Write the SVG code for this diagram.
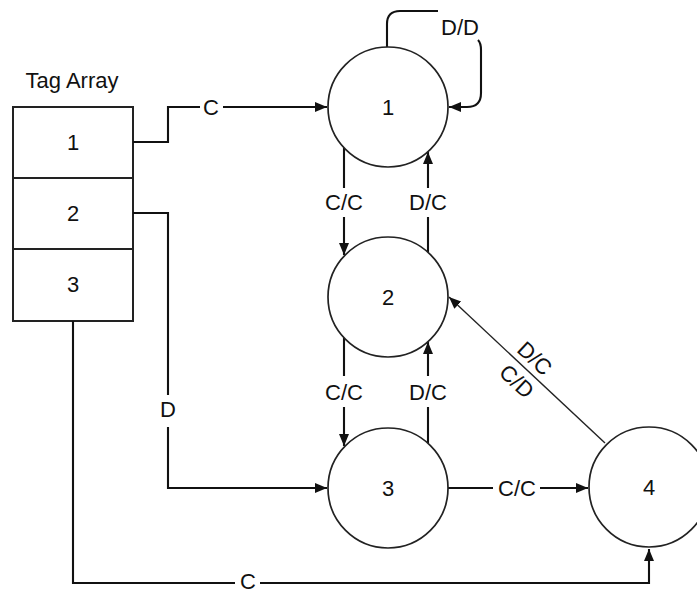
<svg xmlns="http://www.w3.org/2000/svg" width="697" height="592" viewBox="0 0 697 592">
<style>
text{font-family:"Liberation Sans",Arial,sans-serif;font-size:22px;fill:#111;text-anchor:middle}
.n{fill:#fff;stroke:#222;stroke-width:1.7}
.e{fill:none;stroke:#111;stroke-width:2.1}
.thin{fill:none;stroke:#222;stroke-width:1.4}
</style>
<defs>
<marker id="a" markerUnits="userSpaceOnUse" markerWidth="13" markerHeight="11" refX="12" refY="5" orient="auto">
<path d="M0,0 L12,5 L0,10 z" fill="#111"/>
</marker>
</defs>
<rect width="697" height="592" fill="#fff"/>
<g id="tag-array">
<text x="72" y="88">Tag Array</text>
<rect x="13" y="107" width="120" height="214" fill="#fff" stroke="#222" stroke-width="2"/>
<line x1="13" y1="178" x2="133" y2="178" stroke="#222" stroke-width="2"/>
<line x1="13" y1="249" x2="133" y2="249" stroke="#222" stroke-width="2"/>
<text x="73" y="150">1</text>
<text x="73" y="221">2</text>
<text x="73" y="292">3</text>
</g>
<g id="connectors">
<path class="e" d="M133,142 H168 V107 H200 M223,107 H327" marker-end="url(#a)"/>
<text x="211" y="115">C</text>
<path class="e" d="M387,47 V24 Q387,11 400,11 H438"/>
<path class="e" d="M478,40 Q481,43 481,50 V93 Q481,107 467,107 H449" marker-end="url(#a)"/>
<text x="460" y="35">D/D</text>
<path class="e" d="M344,148 V188 M344,217 V255" marker-end="url(#a)"/>
<text x="344" y="210">C/C</text>
<path class="e" d="M428,252 V217 M428,188 V152" marker-end="url(#a)"/>
<text x="428" y="210">D/C</text>
<path class="e" d="M344,338 V376 M344,407 V446" marker-end="url(#a)"/>
<text x="344" y="400">C/C</text>
<path class="e" d="M428,443 V407 M428,376 V342" marker-end="url(#a)"/>
<text x="428" y="400">D/C</text>
<path class="e" d="M133,213 H168 V395 M168,427 V488 H327" marker-end="url(#a)"/>
<text x="168" y="417">D</text>
<path class="e" d="M73,321 V583 H235 M260,583 H649 V549" marker-end="url(#a)"/>
<text x="248" y="589">C</text>
<path class="e" d="M448,488 H493 M540,488 H588" marker-end="url(#a)"/>
<text x="517" y="496">C/C</text>
<path class="thin" d="M605,443 L449,297" marker-end="url(#a)"/>
<text transform="translate(535,358) rotate(43)" y="8">D/C</text>
<text transform="translate(517,381) rotate(43)" y="8">C/D</text>
</g>
<g id="node1"><circle class="n" cx="388" cy="107" r="60"/><text x="388" y="115">1</text></g>
<g id="node2"><circle class="n" cx="388" cy="297" r="60"/><text x="388" y="305">2</text></g>
<g id="node3"><circle class="n" cx="388" cy="488" r="60"/><text x="388" y="496">3</text></g>
<g id="node4"><circle class="n" cx="649" cy="487" r="60"/><text x="649" y="495">4</text></g>
</svg>
